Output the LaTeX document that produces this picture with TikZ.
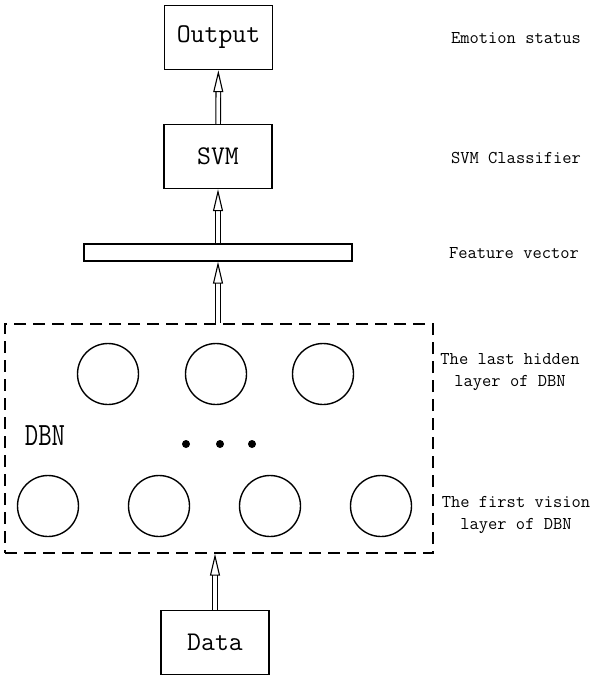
\documentclass[tikz,border=0pt]{standalone}
\usetikzlibrary{arrows.meta}
\tikzset{
  box/.style={draw, line width=1.4pt, minimum width=108pt, minimum height=64pt,
    font=\fontsize{27}{29}\selectfont\ttfamily},
  unit/.style={draw, circle, line width=1.4pt, minimum size=61pt, inner sep=0pt},
  note/.style={font=\fontsize{18}{22}\selectfont\ttfamily, align=center},
  feed/.style={double, double distance=3.5pt, line width=1.1pt,
    -{Triangle[open, length=22pt, width=10pt]}},
}
\begin{document}
\begin{tikzpicture}[x=1pt, y=-1pt]
\useasboundingbox (0,0) rectangle (597,683);
% boxes
\node[box] (out) at (218.5,37.5) {Output};
\node[box] (svm) at (218,156.5) {SVM};
\node[draw, line width=1.4pt, minimum width=268pt, minimum height=17pt, inner sep=0pt] (feat) at (218,252.5) {};
\node[draw, dashed, dash pattern=on 12pt off 7pt, line width=1.4pt, minimum width=428pt, minimum height=229pt] (dbn) at (219,438.5) {};
\node[box] (data) at (215,642.5) {Data};
% hidden layer
\node[unit] (h1) at (108,374) {};
\node[unit] (h2) at (216,374) {};
\node[unit] (h3) at (323,374) {};
% vision layer
\node[unit] (v1) at (48,506) {};
\node[unit] (v2) at (159,506) {};
\node[unit] (v3) at (270,506) {};
\node[unit] (v4) at (381,506) {};
\foreach \x in {186,220,252}
  \fill (\x,444) circle (4pt);
\node[font=\fontsize{26}{28}\selectfont\ttfamily, yscale=1.25] (dbnlabel) at (45,436) {DBN};
% arrows
\draw[feed] (svm) -- (out);
\draw[feed] (feat.north -| svm) -- (svm);
\draw[feed] (dbn.north -| feat) -- (feat);
\draw[feed] (data) -- (dbn.south -| data);
% notes
\node[note] (n1) at (516,38) {Emotion status};
\node[note] (n2) at (516,158) {SVM Classifier};
\node[note] (n3) at (514,253) {Feature vector};
\node[note] (n4) at (510,372) {The last hidden\\layer of DBN};
\node[note] (n5) at (516,515) {The first vision\\layer of DBN};
\end{tikzpicture}
\end{document}
